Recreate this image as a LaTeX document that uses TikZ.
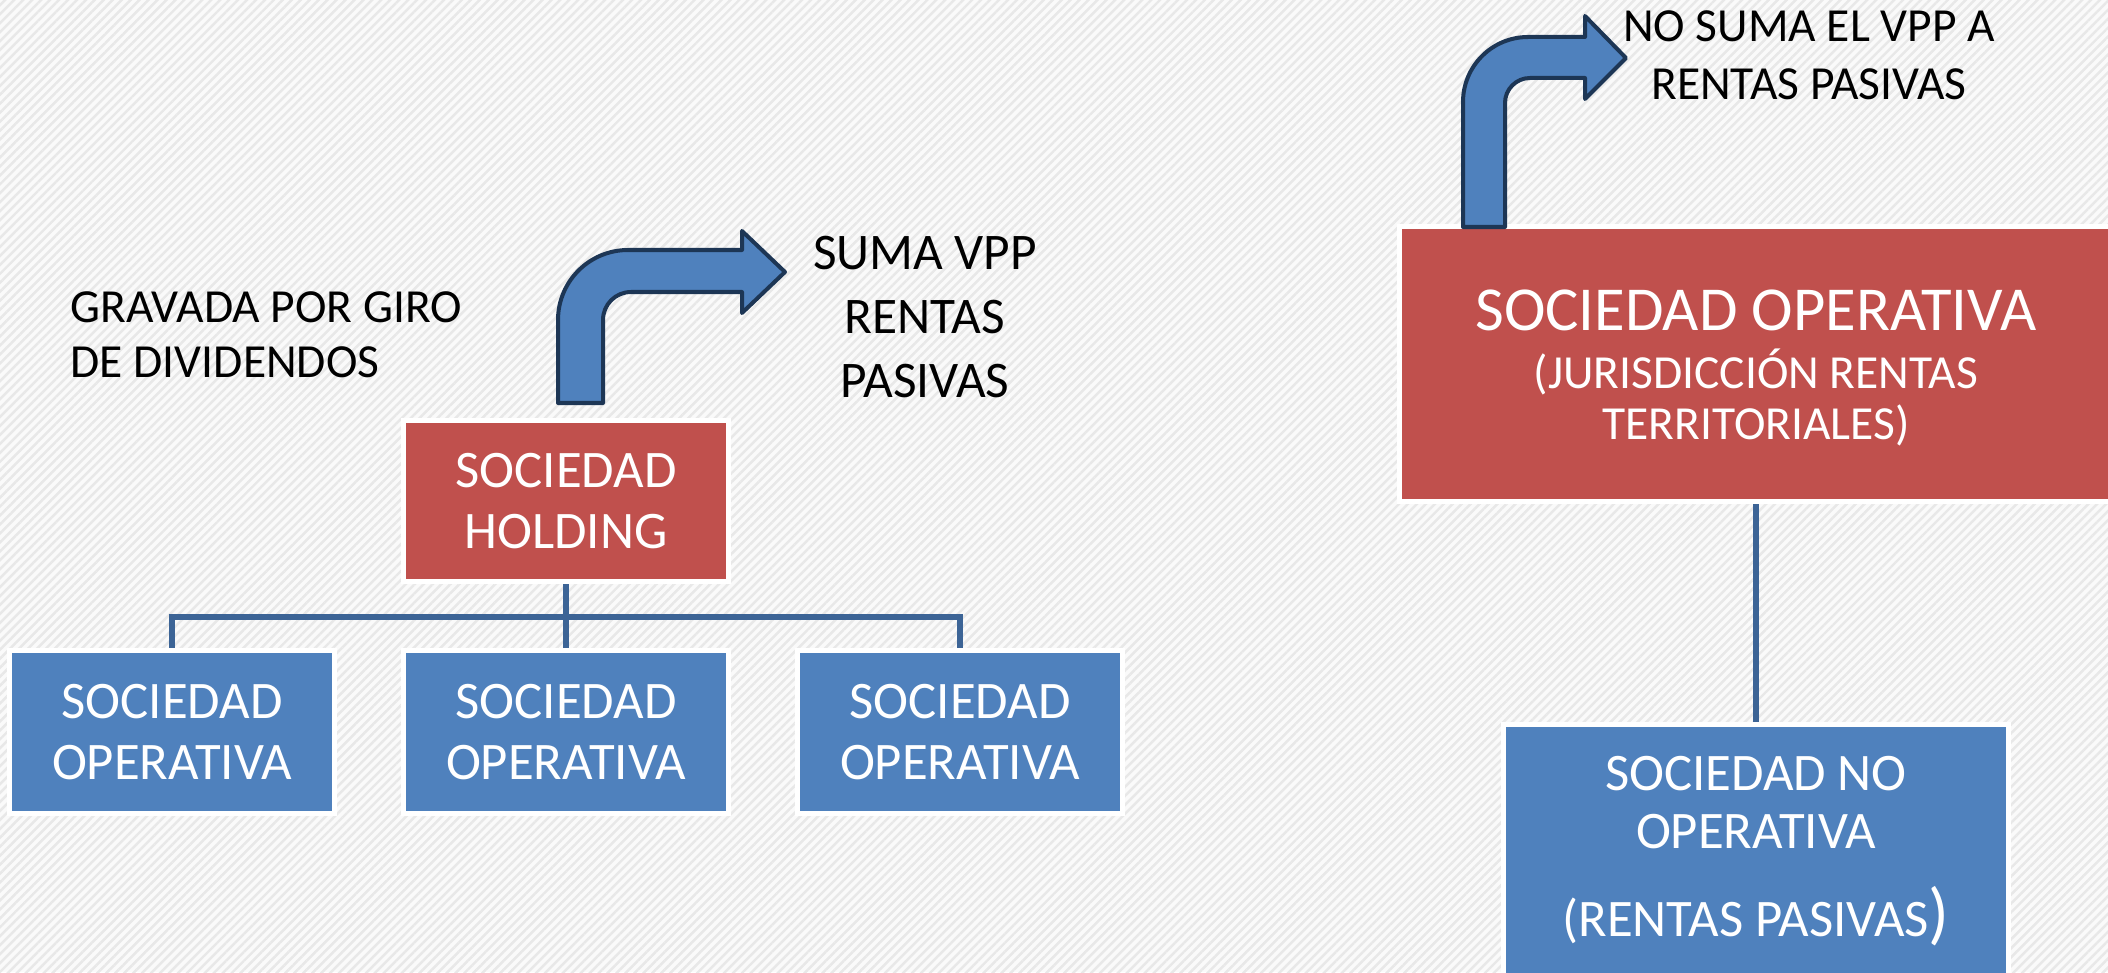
\documentclass[tikz,border=0pt]{standalone}
\usepackage{fontspec}
\setmainfont{Carlito}
\usetikzlibrary{patterns.meta}
\definecolor{boxred}{HTML}{C0504D}
\definecolor{boxblue}{HTML}{4F81BD}
\definecolor{linkblue}{HTML}{3C6496}
\definecolor{arrowline}{HTML}{1D3655}
\begin{document}
\begin{tikzpicture}[x=0.01cm,y=0.01cm,
    company/.style={draw=white,line width=1.42pt,inner sep=0pt,text=white,align=center,
      font=\fontsize{15}{17.2}\selectfont},
    redbox/.style={company,fill=boxred},
    bluebox/.style={company,fill=boxblue},
    link/.style={draw=linkblue,line width=1.56pt},
    bentarrow/.style={fill=boxblue,draw=arrowline,line width=1.14pt,line join=round},
    note/.style={inner sep=0pt,align=center,font=\fontsize{13.5}{16.5}\selectfont}]
        \fill[black!2] (0,0) rectangle (2108,972);
        \fill[pattern={Lines[angle=45,distance=1.8pt,line width=0.7pt]},pattern color=black!9] (0,0) rectangle (2108,972);
        \useasboundingbox (0,0) rectangle (2108,972);

        \node[redbox,minimum width=3.25cm,minimum height=1.61cm] (holding) at (566,471) {SOCIEDAD\\HOLDING};
        \node[bluebox,minimum width=3.25cm,minimum height=1.63cm] (op1) at (172,240) {SOCIEDAD\\OPERATIVA};
        \node[bluebox,minimum width=3.25cm,minimum height=1.63cm] (op2) at (566,240) {SOCIEDAD\\OPERATIVA};
        \node[bluebox,minimum width=3.25cm,minimum height=1.63cm] (op3) at (960,240) {SOCIEDAD\\OPERATIVA};
        \coordinate (bus) at (566,355);
        \draw[link] (op1.north) |- (bus) -| (op3.north);
        \draw[link] (holding.south) -- (op2.north);

        \node[redbox,minimum width=7.13cm,minimum height=2.75cm,font=\fontsize{13.5}{14.5}\selectfont] (territorial) at (1756,608)
            {{\fontsize{17.8}{17.8}\selectfont\rule{0pt}{14pt}SOCIEDAD OPERATIVA}\\[2pt](JURISDICCIÓN RENTAS\\TERRITORIALES)};
        \node[bluebox,minimum width=5.05cm,minimum height=2.53cm,font=\fontsize{15}{16.5}\selectfont] (passive) at (1756,121)
            {SOCIEDAD NO\\OPERATIVA\\[8.5pt](RENTAS PASIVAS{\fontsize{19.5}{19.5}\selectfont)}};
        \draw[link] (territorial.south) -- (passive.north);

        \node[note,anchor=west,align=left,font=\fontsize{13.5}{15.6}\selectfont] (taxed) at (70,637) {GRAVADA POR GIRO\\DE DIVIDENDOS};
        \node[note,font=\fontsize{14.6}{18.1}\selectfont] (adds) at (925,655) {SUMA VPP\\RENTAS\\PASIVAS};
        \node[note] (noadd) at (1809,917) {NO SUMA EL VPP A\\RENTAS PASIVAS};

        \draw[bentarrow] (558,569) -- (558,652) arc[start angle=180,end angle=90,radius=70]
            -- (742,722) -- (742,741) -- (785,700) -- (742,659) -- (742,680) -- (631,680)
            arc[start angle=90,end angle=180,radius=28] -- (603,569) -- cycle;
        \draw[bentarrow] (1463,745) -- (1463,870) arc[start angle=180,end angle=90,radius=65]
            -- (1585,935) -- (1585,956) -- (1626,914) -- (1585,873) -- (1585,894) -- (1530,894)
            arc[start angle=90,end angle=180,radius=25] -- (1505,745) -- cycle;
\end{tikzpicture}
\end{document}
